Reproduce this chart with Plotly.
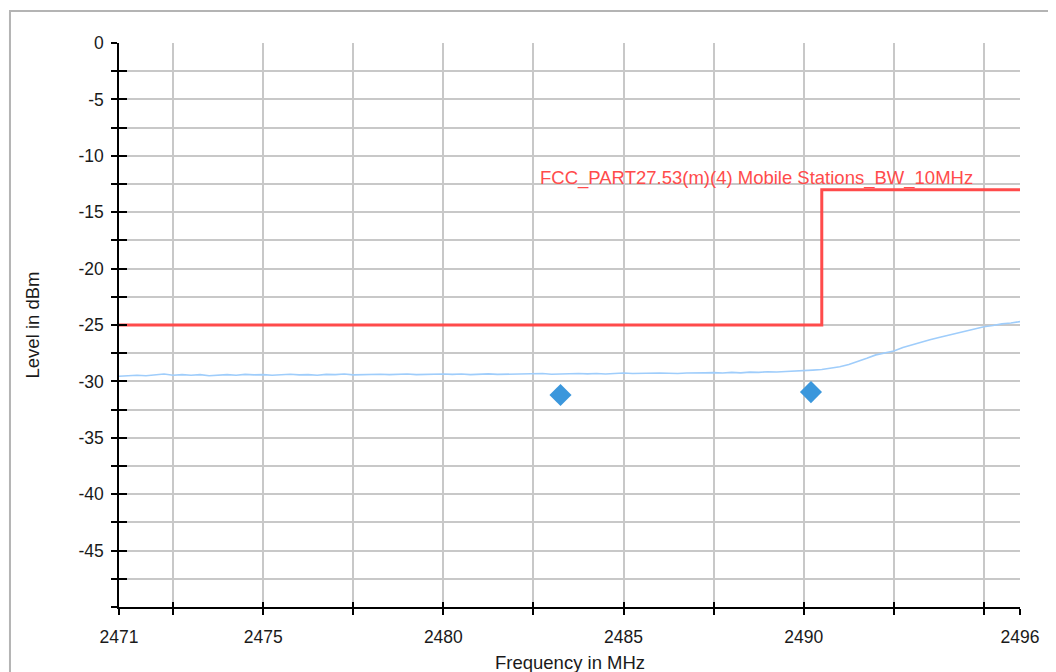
import plotly.graph_objects as go

# ---- data ----
freq_mhz = [
    2471.00, 2471.25, 2471.50, 2471.75, 2472.00, 2472.25, 2472.50, 2472.75,
    2473.00, 2473.25, 2473.50, 2473.75, 2474.00, 2474.25, 2474.50, 2474.75,
    2475.00, 2475.25, 2475.50, 2475.75, 2476.00, 2476.25, 2476.50, 2476.75,
    2477.00, 2477.25, 2477.50, 2477.75, 2478.00, 2478.25, 2478.50, 2478.75,
    2479.00, 2479.25, 2479.50, 2479.75, 2480.00, 2480.25, 2480.50, 2480.75,
    2481.00, 2481.25, 2481.50, 2481.75, 2482.00, 2482.25, 2482.50, 2482.75,
    2483.00, 2483.25, 2483.50, 2483.75, 2484.00, 2484.25, 2484.50, 2484.75,
    2485.00, 2485.25, 2485.50, 2485.75, 2486.00, 2486.25, 2486.50, 2486.75,
    2487.00, 2487.25, 2487.50, 2487.75, 2488.00, 2488.25, 2488.50, 2488.75,
    2489.00, 2489.25, 2489.50, 2489.75, 2490.00, 2490.25, 2490.50, 2490.75,
    2491.00, 2491.25, 2491.50, 2491.75, 2492.00, 2492.25, 2492.50, 2492.75,
    2493.00, 2493.25, 2493.50, 2493.75, 2494.00, 2494.25, 2494.50, 2494.75,
    2495.00, 2495.25, 2495.50, 2495.75, 2496.00,
]
level_dbm = [
    -29.55, -29.50, -29.45, -29.50, -29.40, -29.35, -29.45, -29.40,
    -29.45, -29.40, -29.50, -29.42, -29.40, -29.45, -29.38, -29.42,
    -29.40, -29.45, -29.40, -29.36, -29.42, -29.40, -29.45, -29.38,
    -29.40, -29.35, -29.42, -29.38, -29.40, -29.36, -29.40, -29.38,
    -29.35, -29.40, -29.36, -29.38, -29.34, -29.38, -29.35, -29.40,
    -29.36, -29.33, -29.38, -29.36, -29.40, -29.38, -29.35, -29.30,
    -29.36, -29.32, -29.28, -29.30, -29.33, -29.30, -29.34, -29.30,
    -29.26, -29.30, -29.27, -29.30, -29.25, -29.28, -29.30, -29.25,
    -29.27, -29.24, -29.22, -29.26, -29.20, -29.24, -29.18, -29.20,
    -29.15, -29.17, -29.12, -29.10, -29.05, -29.00, -28.95, -28.85,
    -28.70, -28.50, -28.25, -27.95, -27.65, -27.45, -27.30, -27.00,
    -26.75, -26.55, -26.30, -26.10, -25.90, -25.70, -25.55, -25.35,
    -25.15, -25.05, -24.90, -24.82, -24.70,
]

limit_freq = [2471, 2490.5, 2490.5, 2496]
limit_level = [-25, -25, -13, -13]
limit_name = "FCC_PART27.53(m)(4) Mobile Stations_BW_10MHz"

peak_freq = [2483.25, 2490.2]
peak_level = [-31.2, -30.95]

x_tickvals = [2471, 2472.5, 2475, 2477.5, 2480, 2482.5, 2485, 2487.5,
              2490, 2492.5, 2495, 2496]
x_ticktext = ["2471", "", "2475", "", "2480", "", "2485", "", "2490", "", "", "2496"]
y_tickvals = [0, -2.5, -5, -7.5, -10, -12.5, -15, -17.5, -20, -22.5, -25,
              -27.5, -30, -32.5, -35, -37.5, -40, -42.5, -45, -47.5, -50]
y_ticktext = ["0", "", "-5", "", "-10", "", "-15", "", "-20", "", "-25", "",
              "-30", "", "-35", "", "-40", "", "-45", "", ""]
x_title = "Frequency in MHz"
y_title = "Level in dBm"

FONT = "Liberation Sans, Arial, sans-serif"
GRID = "#c8c8c8"

fig = go.Figure()
fig.add_trace(go.Scatter(x=freq_mhz, y=level_dbm, mode="lines",
                         line=dict(color="#9fcdfb", width=1.6),
                         showlegend=False, hoverinfo="skip"))
fig.add_trace(go.Scatter(x=limit_freq, y=limit_level, mode="lines",
                         line=dict(color="#ff4b4b", width=3),
                         showlegend=False, hoverinfo="skip"))
fig.add_trace(go.Scatter(x=peak_freq, y=peak_level, mode="markers",
                         marker=dict(symbol="diamond", size=17, color="#3b97dc"),
                         showlegend=False))
# invisible trace for overlay axes (inner half of crossing ticks)
fig.add_trace(go.Scatter(x=[2471], y=[-50], xaxis="x2", yaxis="y2", mode="markers",
                         marker=dict(opacity=0), showlegend=False, hoverinfo="skip"))

fig.add_annotation(x=2494.75, y=-11.95, xref="x", yref="y", text=limit_name,
                   showarrow=False, xanchor="right", yanchor="middle",
                   font=dict(family=FONT, size=18.5, color="#ff4b4b"))

# x-axis title
fig.add_annotation(x=0.5, y=0, xref="paper", yref="paper", text=x_title,
                   showarrow=False, xanchor="center", yanchor="middle", yshift=-55,
                   font=dict(family=FONT, size=18.5, color="#1a1a1a"))

# outer frame
fig.add_shape(type="rect", xref="paper", yref="paper",
              x0=-0.1210, x1=1.0322, y0=-0.25, y1=1.0567,
              line=dict(color="#b4b4b4", width=2), fillcolor="rgba(0,0,0,0)",
              layer="below")

fig.update_layout(
    width=1040, height=672,
    margin=dict(l=111, r=28, t=35, b=73),
    paper_bgcolor="white", plot_bgcolor="white",
    font=dict(family=FONT, size=17.5, color="#1a1a1a"),
    xaxis=dict(range=[2471, 2496], tickvals=x_tickvals, ticktext=x_ticktext,
               showgrid=True, gridcolor=GRID, gridwidth=1.5,
               showline=True, linecolor="black", linewidth=1.5,
               ticks="outside", ticklen=6, tickwidth=1.5, tickcolor="black",
               ticklabelstandoff=7, zeroline=False, automargin=False),
    yaxis=dict(range=[-50, 0], tickvals=y_tickvals, ticktext=y_ticktext,
               showgrid=True, gridcolor=GRID, gridwidth=1.5,
               showline=True, linecolor="black", linewidth=1.5,
               ticks="outside", ticklen=6, tickwidth=1.5, tickcolor="black",
               ticklabelstandoff=4, zeroline=False, automargin=False,
               title=dict(text=y_title, standoff=34,
                          font=dict(size=18.5))),
    xaxis2=dict(range=[2471, 2496], overlaying="x", anchor="y2",
                tickvals=x_tickvals, showticklabels=False, showgrid=False,
                ticks="inside", ticklen=5, tickwidth=1.5, tickcolor="black",
                showline=False, zeroline=False),
    yaxis2=dict(range=[-50, 0], overlaying="y", anchor="x2",
                tickvals=y_tickvals, showticklabels=False, showgrid=False,
                ticks="inside", ticklen=8, tickwidth=1.5, tickcolor="black",
                showline=False, zeroline=False),
)

fig.write_html("out.html")
